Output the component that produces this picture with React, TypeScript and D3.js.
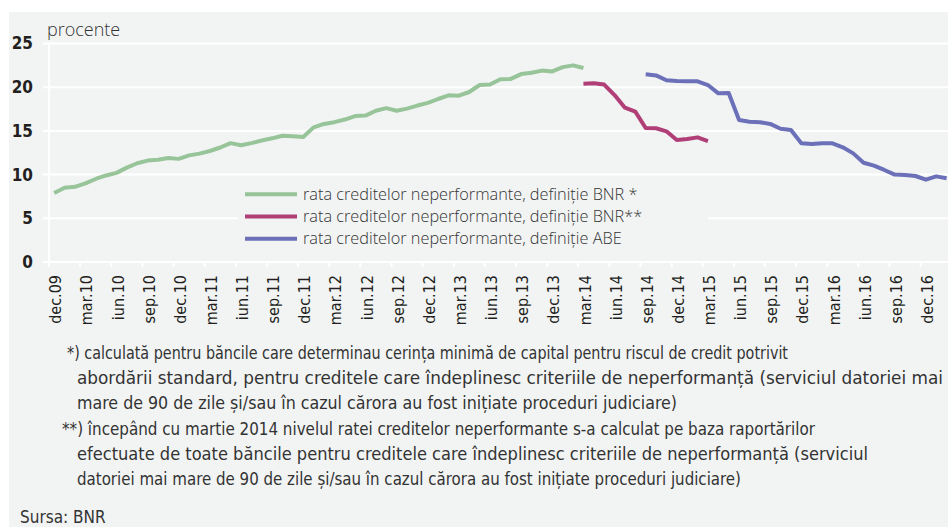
import React, { useEffect, useRef } from 'react';
import * as d3 from 'd3';

// month categories, dec.09 .. feb.17
const monthNames = ['ian', 'feb', 'mar', 'apr', 'mai', 'iun', 'iul', 'aug', 'sep', 'oct', 'nov', 'dec'];
const categories: string[] = [];
for (let y = 9; y <= 17; y++) {
  monthNames.forEach((m, i) => {
    if ((y === 9 && i < 11) || (y === 17 && i > 1)) return;
    categories.push(`${m}.${String(y).padStart(2, '0')}`);
  });
}
const tickLabels = categories.filter((_, i) => i % 3 === 0);

// rata creditelor neperformante, definiție BNR * (dec.09 - mar.14)
const bnrOld = [
  7.9, 8.5, 8.6, 9.0, 9.5, 9.9, 10.2, 10.8, 11.3, 11.6, 11.7, 11.9,
  11.8, 12.2, 12.4, 12.7, 13.1, 13.6, 13.35, 13.6, 13.9, 14.15, 14.45, 14.4,
  14.3, 15.4, 15.8, 16.0, 16.3, 16.7, 16.75, 17.3, 17.6, 17.3, 17.55, 17.9,
  18.2, 18.65, 19.07, 19.03, 19.45, 20.25, 20.3, 20.9, 20.95, 21.5, 21.65, 21.9,
  21.8, 22.3, 22.5, 22.2,
];
// definiție BNR ** (mar.14 - mar.15)
const bnrNew = [20.4, 20.45, 20.3, 19.1, 17.65, 17.2, 15.33, 15.3, 14.95, 13.96, 14.07, 14.26, 13.84];
// definiție ABE (sep.14 - feb.17)
const abe = [
  21.47, 21.35, 20.8, 20.7, 20.67, 20.67, 20.25, 19.3, 19.33, 16.25, 16.05, 16.0,
  15.8, 15.25, 15.1, 13.58, 13.5, 13.6, 13.58, 13.12, 12.43, 11.36, 11.02, 10.53,
  10.0, 9.95, 9.84, 9.42, 9.8, 9.58,
];

const series = [
  { name: 'rata creditelor neperformante, definiție BNR *', start: 'dec.09', values: bnrOld, color: '#98c49a' },
  { name: 'rata creditelor neperformante, definiție BNR**', start: 'mar.14', values: bnrNew, color: '#b03f78' },
  { name: 'rata creditelor neperformante, definiție ABE', start: 'sep.14', values: abe, color: '#6b70b9' },
];

const yTicks = [0, 5, 10, 15, 20, 25];

// footnote lines, with left edge and width as they sit in the picture
const notes = [
  { text: '*) calculată pentru băncile care determinau cerința minimă de capital pentru riscul de credit potrivit', x: 67, w: 721 },
  { text: 'abordării standard, pentru creditele care îndeplinesc criteriile de neperformanță (serviciul datoriei mai', x: 77, w: 866 },
  { text: 'mare de 90 de zile și/sau în cazul cărora au fost inițiate proceduri judiciare)', x: 77, w: 600 },
  { text: '**) începând cu martie 2014 nivelul ratei creditelor neperformante s-a calculat pe baza raportărilor', x: 62, w: 753 },
  { text: 'efectuate de toate băncile pentru creditele care îndeplinesc criteriile de neperformanță (serviciul', x: 77, w: 791 },
  { text: 'datoriei mai mare de 90 de zile și/sau în cazul cărora au fost inițiate proceduri judiciare)', x: 77, w: 664 },
];

const W = 948;
const H = 527;
const narrow = '"Liberation Sans Narrow", "DejaVu Sans Condensed", "Roboto", sans-serif';
const regular = '"Open Sans", "Noto Sans", sans-serif';

const App = () => {
  const svgRef = useRef<SVGSVGElement>(null);

  useEffect(() => {
    const svg = d3.select(svgRef.current);
    svg.selectAll('*').remove();

    const left = 49;
    const step = 10.377;
    const x = d3.scaleBand<string>()
      .domain(categories)
      .range([left, left + step * categories.length]);
    const y = d3.scaleLinear().domain([0, 25]).range([262, 43.5]);

    // background
    svg.append('rect')
      .attr('x', 9).attr('y', 12)
      .attr('width', W - 9).attr('height', H - 12)
      .attr('fill', '#f2f4f4');

    // gridlines
    svg.append('g').selectAll('line')
      .data(yTicks)
      .enter().append('line')
      .attr('x1', 43).attr('x2', W)
      .attr('y1', d => y(d)).attr('y2', d => y(d))
      .attr('stroke', '#fff').attr('stroke-width', 2);

    // y axis line
    svg.append('line')
      .attr('x1', left).attr('x2', left)
      .attr('y1', y(25)).attr('y2', y(0))
      .attr('stroke', '#fff').attr('stroke-width', 2);

    // x ticks
    svg.append('g').selectAll('line')
      .data(tickLabels)
      .enter().append('line')
      .attr('x1', d => x(d)!).attr('x2', d => x(d)!)
      .attr('y1', y(0)).attr('y2', y(0) + 5)
      .attr('stroke', '#fff').attr('stroke-width', 2);

    // y labels
    svg.append('g').selectAll('text')
      .data(yTicks)
      .enter().append('text')
      .attr('x', 33).attr('y', d => y(d))
      .attr('dy', '0.35em')
      .attr('text-anchor', 'end')
      .style('font-family', narrow)
      .style('font-weight', 'bold')
      .style('font-size', '17px')
      .attr('fill', '#231f20')
      .text(d => d);

    // x labels
    svg.append('g').selectAll('text')
      .data(tickLabels)
      .enter().append('text')
      .attr('transform', d => `translate(${x(d)! + x.bandwidth() / 2 + 1.5},275) rotate(-90)`)
      .attr('dy', '0.35em')
      .attr('text-anchor', 'end')
      .style('font-family', narrow)
      .style('font-size', '16px')
      .attr('fill', '#231f20')
      .text(d => d);

    svg.append('text')
      .attr('x', 47).attr('y', 36)
      .style('font-family', regular)
      .style('font-size', '18px')
      .style('font-weight', 300)
      .attr('fill', '#333')
      .text('procente');

    // legend box hides gridline
    svg.append('rect')
      .attr('x', 238).attr('y', 182)
      .attr('width', 470).attr('height', 68)
      .attr('fill', '#f2f4f4');

    const line = d3.line<[number, number]>()
      .x(d => x(categories[d[0]])! + x.bandwidth() / 2)
      .y(d => y(d[1]));

    series.forEach((s, k) => {
      const i0 = categories.indexOf(s.start);
      const pts: [number, number][] = s.values.map((v, i) => [i0 + i, v]);
      svg.append('path')
        .datum(pts)
        .attr('d', line)
        .attr('fill', 'none')
        .attr('stroke', s.color)
        .attr('stroke-width', 4)
        .attr('stroke-linejoin', 'round');

      const ly = 194.3 + k * 22.2;
      svg.append('line')
        .attr('x1', 245).attr('x2', 297)
        .attr('y1', ly).attr('y2', ly)
        .attr('stroke', s.color).attr('stroke-width', 4);
      svg.append('text')
        .attr('x', 303).attr('y', ly)
        .attr('dy', '0.35em')
        .style('font-family', regular)
        .style('font-size', '16.3px')
        .style('font-weight', 300)
        .attr('fill', '#333')
        .text(s.name);
    });

    // footnotes
    svg.append('g').selectAll('text')
      .data(notes)
      .enter().append('text')
      .attr('x', d => d.x)
      .attr('y', (_, i) => 359 + i * 25 + (i >= 3 ? 1 : 0))
      .attr('textLength', d => d.w)
      .attr('lengthAdjust', 'spacingAndGlyphs')
      .style('font-family', narrow)
      .style('font-size', '17px')
      .attr('fill', '#333')
      .text(d => d.text);

    svg.append('text')
      .attr('x', 20).attr('y', 523)
      .style('font-family', narrow)
      .style('font-size', '17px')
      .attr('fill', '#333')
      .text('Sursa: BNR');
  }, []);

  return (
    <div style={{ position: 'absolute', left: 0, top: 0 }}>
      <svg ref={svgRef} width={W} height={H} style={{ display: 'block' }} />
    </div>
  );
};

export default App;
